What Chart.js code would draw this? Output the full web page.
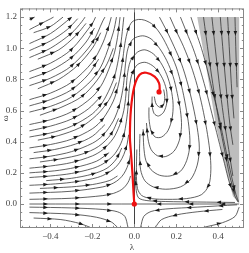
<!DOCTYPE html>
<html><head><meta charset="utf-8">
<script src="https://cdn.jsdelivr.net/npm/chart.js@4.4.1/dist/chart.umd.min.js"></script>
<style>html,body{margin:0;padding:0;background:#fff}</style>
</head><body>
<canvas id="c" width="249" height="253" style="display:block;width:249px;height:253px"></canvas>
<script>
const xTicks=[-0.4,-0.2,0,0.2,0.4];
const yTicks=[0,0.2,0.4,0.6,0.8,1.0,1.2];
const grayRegion=[[0.30,1.2],[0.5,1.2],[0.5,0.005],[0.47,0.05],[0.43,0.26],[0.39,0.5],[0.345,0.86],[0.30,1.2]];
const redPath=[[0,0],[-0.004,0.08],[-0.009,0.2],[-0.016,0.33],[-0.021,0.43],[-0.016,0.61],[0.0,0.755],[0.025,0.83],[0.057,0.843],[0.097,0.818],[0.118,0.776],[0.121,0.737],[0.118,0.72]];
const redDots=[[0,0],[0.118,0.72]];
const streamLeft=[
 [[-0.5,0.03],[-0.3,0.037],[-0.15,0.054],[-0.1,0.068],[-0.07,0.085],[-0.05,0.104],[-0.035,0.128],[-0.025,0.152],[-0.018,0.18]],
 [[-0.5,0.07],[-0.3,0.082],[-0.15,0.11],[-0.1,0.134],[-0.07,0.162],[-0.05,0.194],[-0.035,0.233],[-0.025,0.273],[-0.018,0.32]],
 [[-0.5,0.12],[-0.4,0.127],[-0.3,0.139],[-0.2,0.162],[-0.15,0.183],[-0.1,0.223],[-0.07,0.267],[-0.05,0.318],[-0.035,0.38],[-0.027,0.445]],
 [[-0.5,0.17],[-0.4,0.18],[-0.3,0.196],[-0.2,0.228],[-0.15,0.257],[-0.1,0.311],[-0.07,0.372],[-0.05,0.442],[-0.038,0.528],[-0.03,0.62],[-0.024,0.74],[-0.01,0.84],[0.015,0.895],[0.05,0.91],[0.085,0.89],[0.115,0.85],[0.14,0.79],[0.155,0.72],[0.155,0.65],[0.14,0.59],[0.115,0.565],[0.095,0.58],[0.085,0.63],[0.085,0.69]],
 [[-0.5,0.23],[-0.4,0.244],[-0.3,0.266],[-0.2,0.309],[-0.15,0.349],[-0.1,0.422],[-0.07,0.506],[-0.05,0.601],[-0.04,0.7],[-0.034,0.82],[-0.018,0.92],[0.015,0.975],[0.05,0.99],[0.09,0.965],[0.125,0.91],[0.155,0.83],[0.175,0.74],[0.185,0.64],[0.18,0.55],[0.16,0.47],[0.13,0.43],[0.1,0.43],[0.08,0.47],[0.07,0.55],[0.07,0.62]],
 [[-0.5,0.29],[-0.4,0.307],[-0.3,0.336],[-0.2,0.39],[-0.15,0.44],[-0.1,0.534],[-0.07,0.639],[-0.052,0.76],[-0.042,0.9],[-0.03,1.0],[-0.005,1.06],[0.04,1.08],[0.08,1.06],[0.12,1.0],[0.155,0.92],[0.185,0.82],[0.205,0.71],[0.22,0.6],[0.225,0.5],[0.215,0.41],[0.19,0.34],[0.15,0.305],[0.11,0.31],[0.08,0.35],[0.065,0.42],[0.058,0.52]],
 [[-0.5,0.36],[-0.4,0.382],[-0.3,0.416],[-0.2,0.483],[-0.15,0.546],[-0.1,0.661],[-0.075,0.77],[-0.058,0.9],[-0.045,1.03],[-0.03,1.12],[-0.01,1.17],[0.02,1.185],[0.05,1.18],[0.09,1.15],[0.13,1.08],[0.165,0.99],[0.2,0.88],[0.225,0.76],[0.245,0.63],[0.26,0.5],[0.265,0.38],[0.25,0.28],[0.22,0.21],[0.17,0.18],[0.12,0.185],[0.08,0.22],[0.055,0.28],[0.045,0.37],[0.042,0.48]],
 [[-0.5,0.43],[-0.4,0.456],[-0.3,0.499],[-0.2,0.579],[-0.15,0.656],[-0.1,0.795],[-0.08,0.9],[-0.065,1.02],[-0.055,1.135],[-0.05,1.2]],
 [[-0.5,0.51],[-0.4,0.541],[-0.3,0.592],[-0.2,0.688],[-0.15,0.779],[-0.1,0.946],[-0.08,1.07],[-0.068,1.2]],
 [[-0.5,0.59],[-0.4,0.627],[-0.3,0.686],[-0.2,0.8],[-0.15,0.907],[-0.1,1.103],[-0.085,1.2]],
 [[-0.5,0.67],[-0.4,0.712],[-0.3,0.781],[-0.2,0.911],[-0.15,1.034],[-0.12,1.15],[-0.11,1.2]],
 [[-0.5,0.76],[-0.4,0.808],[-0.3,0.886],[-0.2,1.035],[-0.15,1.176],[-0.14,1.2]],
 [[-0.5,0.85],[-0.4,0.904],[-0.3,0.992],[-0.2,1.159],[-0.185,1.2]],
 [[-0.5,0.94],[-0.4,1.0],[-0.3,1.096],[-0.25,1.171],[-0.235,1.2]],
 [[-0.5,1.03],[-0.4,1.094],[-0.3,1.198]],
 [[-0.5,1.12],[-0.4,1.189],[-0.385,1.2]],
 [[-0.5,1.185],[-0.475,1.2]]
];
const streamExtra=[
 [[-0.45,0.1],[-0.3,0.11],[-0.2,0.125],[-0.12,0.15],[-0.08,0.18]],
 [[-0.42,0.15],[-0.3,0.165],[-0.2,0.192],[-0.13,0.23],[-0.085,0.29],[-0.06,0.36]],
 [[-0.5,0.2],[-0.38,0.213],[-0.28,0.235],[-0.18,0.275],[-0.12,0.33]],
 [[-0.45,0.27],[-0.35,0.29],[-0.25,0.32],[-0.17,0.37],[-0.11,0.45],[-0.075,0.55]],
 [[-0.48,0.33],[-0.38,0.35],[-0.28,0.385],[-0.2,0.435],[-0.14,0.51]],
 [[-0.46,0.41],[-0.36,0.44],[-0.26,0.49],[-0.18,0.57],[-0.12,0.67],[-0.085,0.78]],
 [[-0.5,0.47],[-0.4,0.5],[-0.3,0.545],[-0.22,0.61],[-0.16,0.69]],
 [[-0.45,0.57],[-0.35,0.62],[-0.25,0.69],[-0.18,0.79],[-0.13,0.9],[-0.1,1.0]],
 [[-0.5,0.63],[-0.4,0.67],[-0.3,0.733],[-0.22,0.83],[-0.17,0.93]],
 [[-0.46,0.74],[-0.36,0.8],[-0.27,0.89],[-0.2,1.0],[-0.16,1.1]],
 [[-0.5,0.805],[-0.4,0.856],[-0.3,0.94],[-0.23,1.04],[-0.19,1.13]],
 [[-0.46,0.93],[-0.36,0.99],[-0.28,1.08],[-0.23,1.16]],
 [[-0.5,0.985],[-0.4,1.047],[-0.32,1.12],[-0.27,1.19]],
 [[-0.48,1.1],[-0.4,1.14],[-0.34,1.2]]
];
const streamRight=[
 [[0.22,1.2],[0.25,1.1],[0.28,1.0],[0.31,0.88],[0.34,0.74],[0.37,0.58],[0.4,0.42],[0.43,0.26],[0.455,0.13],[0.48,0.05],[0.495,0.012]],
 [[0.27,1.2],[0.295,1.1],[0.32,1.0],[0.345,0.88],[0.37,0.74],[0.4,0.58],[0.425,0.42],[0.45,0.26],[0.47,0.14],[0.485,0.06],[0.497,0.015]],
 [[0.17,1.2],[0.2,1.11],[0.235,1.01],[0.27,0.89],[0.3,0.76],[0.325,0.62],[0.345,0.48],[0.36,0.34],[0.365,0.22],[0.355,0.12],[0.32,0.06],[0.25,0.035],[0.16,0.03],[0.08,0.035],[0.035,0.055],[0.015,0.1],[0.01,0.2],[0.012,0.35]],
 [[0.12,1.2],[0.155,1.11],[0.19,1.01],[0.225,0.9],[0.255,0.77],[0.28,0.63],[0.3,0.49],[0.31,0.36],[0.3,0.25],[0.27,0.16],[0.22,0.11],[0.15,0.095],[0.09,0.11],[0.05,0.15],[0.03,0.22],[0.025,0.33],[0.027,0.45]],
 [[0.48,0.01],[0.3,0.013],[0.15,0.016],[0.06,0.022],[0.02,0.04],[0.008,0.1],[0.005,0.2]],
 [[0.095,0.69],[0.105,0.64],[0.125,0.62],[0.14,0.64],[0.145,0.69],[0.14,0.735]]
];
const streamGray=[
 [[0.33,1.2],[0.355,0.95],[0.38,0.72],[0.405,0.52],[0.43,0.35],[0.455,0.18],[0.48,0.06]],
 [[0.37,1.2],[0.39,0.95],[0.41,0.72],[0.43,0.52],[0.45,0.35],[0.47,0.18]],
 [[0.41,1.2],[0.425,0.95],[0.44,0.72],[0.455,0.52],[0.47,0.38]],
 [[0.445,1.2],[0.455,0.95],[0.465,0.72],[0.475,0.55]],
 [[0.48,1.2],[0.485,0.95],[0.49,0.75]]
];
const streamBelow=[
 [[-0.5,-0.02],[-0.3,-0.025],[-0.15,-0.035],[-0.08,-0.05],[-0.045,-0.08],[-0.03,-0.15]],
 [[-0.5,-0.055],[-0.3,-0.065],[-0.18,-0.085],[-0.11,-0.115],[-0.08,-0.15]],
 [[-0.48,-0.09],[-0.35,-0.1],[-0.26,-0.125],[-0.21,-0.15]],
 [[0.49,-0.005],[0.3,-0.02],[0.15,-0.032],[0.08,-0.048],[0.045,-0.08],[0.03,-0.15]],
 [[0.42,-0.035],[0.3,-0.05],[0.2,-0.07],[0.13,-0.1],[0.1,-0.15]],
 [[0.33,-0.15],[0.42,-0.12],[0.48,-0.08],[0.5,-0.02]],
 [[-0.5,0.0],[-0.25,0.0],[0,0.0]],
 [[0.5,0.0],[0.25,0.0],[0,0.0]]
];

const pts=a=>a.map(([x,y])=>({x,y}));
const streams=[...streamLeft,...streamExtra,...streamRight,...streamGray,...streamBelow];
const datasets=[];
datasets.push({data:pts(redDots),showLine:false,pointRadius:2.6,pointBackgroundColor:'#ee1111',pointBorderWidth:0});
datasets.push({data:pts(redPath),showLine:true,borderColor:'#ee1111',borderWidth:2.2,pointRadius:0,tension:0.35,fill:false});
streams.forEach(s=>datasets.push({data:pts(s),showLine:true,fill:false,borderColor:'#2e2e2e',borderWidth:0.75,pointRadius:0,tension:0.3,stream:true}));

const arrowPlugin={id:'arrows',afterDatasetDraw(chart,args){
  const ds=chart.data.datasets[args.index]; if(!ds.stream) return;
  const p=args.meta.data.map(e=>({x:e.x,y:e.y}));
  const ctx=chart.ctx, a=chart.chartArea;
  let segs=[],tot=0;
  for(let i=1;i<p.length;i++){const l=Math.hypot(p[i].x-p[i-1].x,p[i].y-p[i-1].y);segs.push(l);tot+=l;}
  const sp=32; let d=Math.min(sp/2,tot/2);
  ctx.save();ctx.fillStyle='#1a1a1a';
  while(d<tot){
    let acc=0,i=0; while(i<segs.length&&acc+segs[i]<d){acc+=segs[i];i++;}
    if(i>=segs.length)break;
    const t=(d-acc)/segs[i]; const A=p[i],B=p[i+1];
    const x=A.x+(B.x-A.x)*t,y=A.y+(B.y-A.y)*t; const ang=Math.atan2(B.y-A.y,B.x-A.x);
    if(x>a.left&&x<a.right&&y>a.top&&y<a.bottom){
      ctx.save();ctx.translate(x,y);ctx.rotate(ang);ctx.beginPath();ctx.moveTo(2.5,0);ctx.lineTo(-2.1,-1.8);ctx.lineTo(-2.1,1.8);ctx.closePath();ctx.fill();ctx.restore();
    }
    d+=sp;
  }
  ctx.restore();
}};

const framePlugin={id:'frame',beforeDatasetsDraw(chart){
  const {ctx,chartArea:a,scales:{x,y}}=chart;
  ctx.save();
  ctx.fillStyle='#bdbdbd';ctx.beginPath();
  grayRegion.forEach(([gx,gy],i)=>{const px=x.getPixelForValue(gx),py=y.getPixelForValue(gy);i?ctx.lineTo(px,py):ctx.moveTo(px,py);});
  ctx.closePath();ctx.fill();
  ctx.strokeStyle='#111';ctx.lineWidth=0.8;
  const x0=Math.round(x.getPixelForValue(0))+0.5;
  ctx.beginPath();ctx.moveTo(x0,a.top);ctx.lineTo(x0,a.bottom);ctx.stroke();
  ctx.restore();
},afterDraw(chart){
  const {ctx,chartArea:a,scales:{x,y}}=chart;
  ctx.save();ctx.strokeStyle='#888';ctx.lineWidth=1;
  ctx.strokeRect(a.left+0.5,a.top+0.5,a.right-a.left-1,a.bottom-a.top-1);
  const xs=0.2/6, ys=0.05;
  for(let k=Math.ceil(x.min/xs);k*xs<=x.max;k++){const v=k*xs;const maj=Math.abs(v/0.2-Math.round(v/0.2))<1e-6;const L=maj?4:2.2;const px=Math.round(x.getPixelForValue(v))+0.5;
    ctx.beginPath();ctx.moveTo(px,a.bottom);ctx.lineTo(px,a.bottom-L);ctx.moveTo(px,a.top);ctx.lineTo(px,a.top+L);ctx.stroke();}
  for(let k=Math.ceil(y.min/ys);k*ys<=y.max;k++){const v=k*ys;const maj=Math.abs(v/0.2-Math.round(v/0.2))<1e-6;const L=maj?4:2.2;const py=Math.round(y.getPixelForValue(v))+0.5;
    ctx.beginPath();ctx.moveTo(a.left,py);ctx.lineTo(a.left+L,py);ctx.moveTo(a.right,py);ctx.lineTo(a.right-L,py);ctx.stroke();}
  ctx.restore();
}};

new Chart(document.getElementById('c'),{type:'scatter',data:{datasets},plugins:[arrowPlugin,framePlugin],options:{
  responsive:false,animation:false,devicePixelRatio:1,
  layout:{padding:{left:0,right:5,top:1,bottom:0}},
  plugins:{legend:{display:false},tooltip:{enabled:false}},
  scales:{
    x:{type:'linear',min:-0.545,max:0.523,grid:{display:false,drawTicks:false},border:{display:false},
      afterBuildTicks:s=>{s.ticks=xTicks.map(v=>({value:v}));},
      afterFit:s=>{s.height=25;},
      ticks:{callback:v=>(v<0?'\u2212':'')+Math.abs(v).toFixed(1),font:{family:'Liberation Serif',size:9},color:'#444',padding:3,maxRotation:0,autoSkip:false},
      title:{display:true,text:'λ',font:{family:'Liberation Serif',size:9},color:'#444',padding:{top:1,bottom:0}}},
    y:{type:'linear',min:-0.154,max:1.256,grid:{display:false,drawTicks:false},border:{display:false},
      afterBuildTicks:s=>{s.ticks=yTicks.map(v=>({value:v}));},
      afterFit:s=>{s.width=20;},
      ticks:{callback:v=>v.toFixed(1),font:{family:'Liberation Serif',size:9},color:'#444',padding:3,autoSkip:false},
      title:{display:true,text:'ω',font:{family:'Liberation Serif',size:9},color:'#444',padding:{top:0,bottom:0}}}
  }}});
</script></body></html>
